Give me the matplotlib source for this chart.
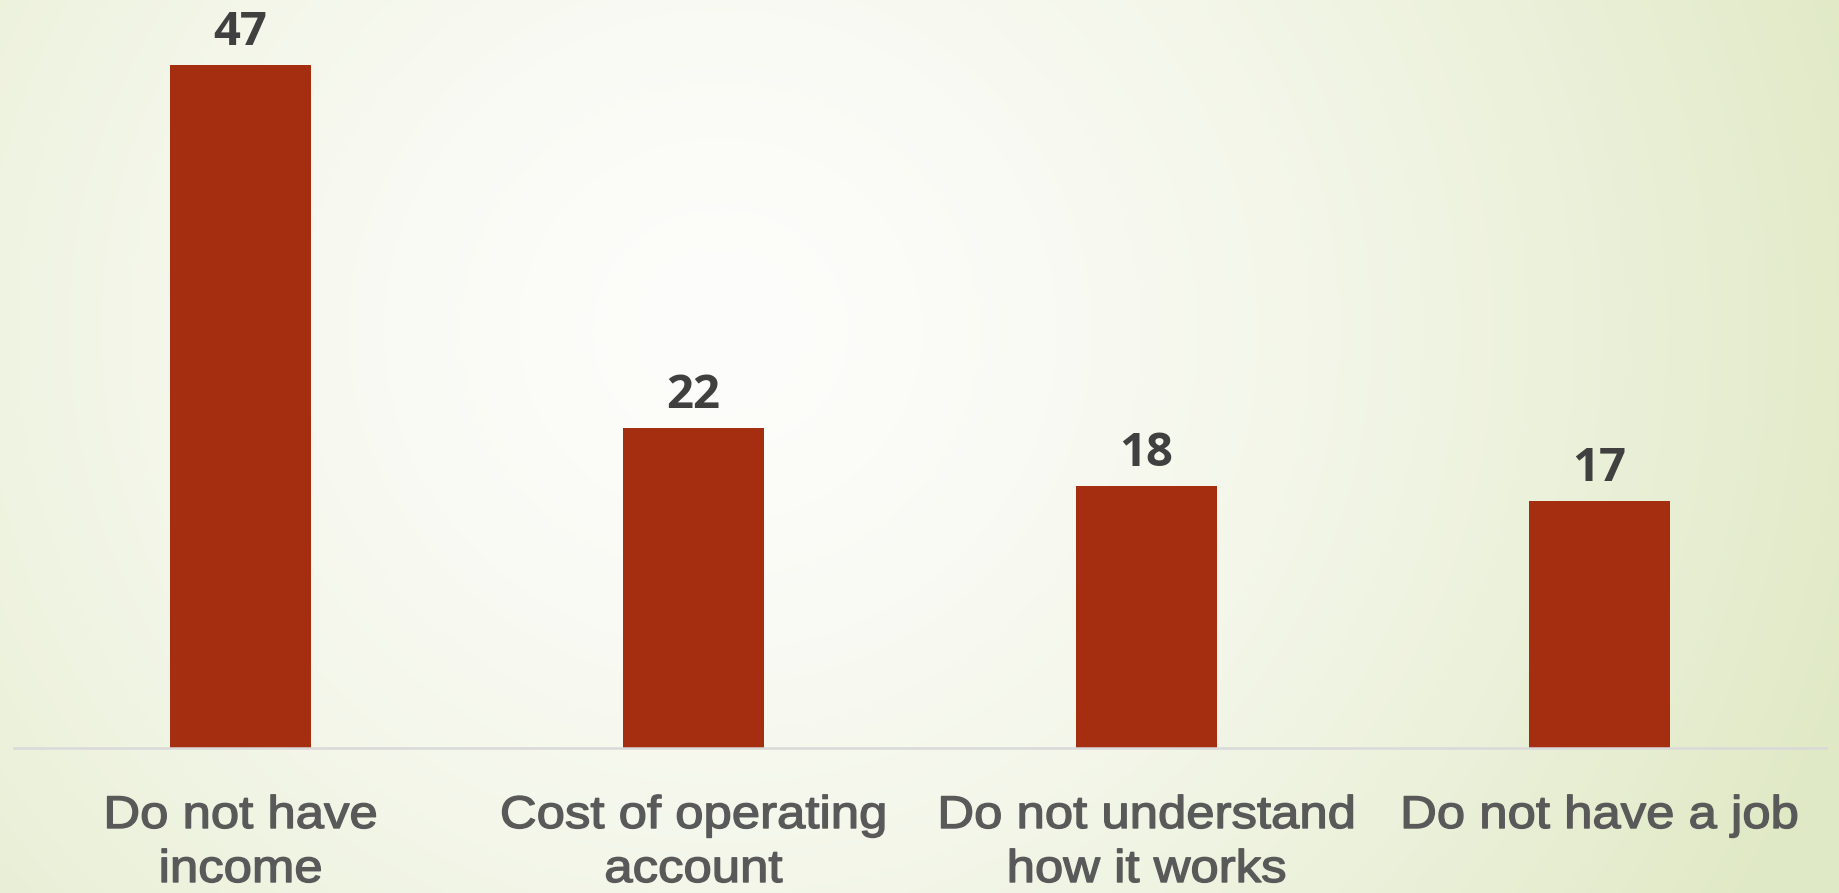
import numpy as np
import matplotlib
matplotlib.use("Agg")
import matplotlib.pyplot as plt
from matplotlib import font_manager
from matplotlib.patheffects import AbstractPathEffect
from matplotlib.transforms import Affine2D, offset_copy, blended_transform_factory

# Reasons given for not having an account
categories = ["Do not have\nincome", "Cost of operating\naccount",
              "Do not understand\nhow it works", "Do not have a job"]
values = [47, 22, 18, 17]
value_labels = ["47", "22", "18", "17"]

BAR_COLOR = "#a52e10"
VALUE_COLOR = "#404040"
CAT_COLOR = "#595959"


def pick_family(candidates):
    for fam in candidates:
        try:
            font_manager.findfont(font_manager.FontProperties(family=fam),
                                  fallback_to_default=False)
            return fam
        except Exception:
            continue
    return "DejaVu Sans"


class WideHeavy(AbstractPathEffect):
    """Widen glyphs horizontally about their centre and thicken them slightly."""

    def __init__(self, sx=1.1, linewidth=1.0, color="k"):
        super().__init__()
        self.sx = sx
        self.lw = linewidth
        self.color = color

    def draw_path(self, renderer, gc, tpath, affine, rgbFace=None):
        pts = affine.transform(tpath.vertices)
        cx = 0.5 * (pts[:, 0].min() + pts[:, 0].max())
        wide = affine + Affine2D().translate(-cx, 0).scale(self.sx, 1).translate(cx, 0)
        gc0 = renderer.new_gc()
        gc0.copy_properties(gc)
        gc0.set_linewidth(self.lw)
        gc0.set_foreground(self.color)
        renderer.draw_path(gc0, tpath, wide, rgbFace)
        gc0.restore()


cat_family = pick_family(["Liberation Sans", "DejaVu Sans"])
val_family = pick_family(["Open Sans", "Noto Sans", "DejaVu Sans"])

W, H, DPI = 1839, 893, 100
fig = plt.figure(figsize=(W / DPI, H / DPI), dpi=DPI)

# Soft radial background: near-white centre fading to pale green
bg = fig.add_axes([0, 0, 1, 1], zorder=0)
yy, xx = np.mgrid[0:H, 0:W]
cx, cy = 720.0, 330.0
d = np.hypot(xx - cx, (yy - cy) * 1.05)
t = np.clip(d / 1200.0, 0, 1) ** 1.5
inner = np.array([253, 253, 251]) / 255.0
outer = np.array([224, 233, 197]) / 255.0
img = inner[None, None, :] * (1 - t[..., None]) + outer[None, None, :] * t[..., None]
bg.imshow(img, aspect="auto", extent=(0, W, H, 0), interpolation="bilinear")
bg.set_axis_off()

ax = fig.add_axes([14 / W, 145 / H, 1812 / W, 726.5 / H], zorder=1)
ax.patch.set_alpha(0)

x = np.arange(len(categories))
ax.bar(x, values, width=0.313, color=BAR_COLOR, zorder=2)
ax.set_xlim(-0.5, len(categories) - 0.5)
ax.set_ylim(0, 50)

for spine in ["top", "right", "left"]:
    ax.spines[spine].set_visible(False)
ax.spines["bottom"].set_color("#d9d9d9")
ax.spines["bottom"].set_linewidth(1.8)
ax.set_yticks([])
ax.set_xticks([])

# Value labels above bars
for xi, v, lab in zip(x, values, value_labels):
    ax.annotate(lab, (xi, v), xytext=(0, 14.5), textcoords="offset points",
                ha="center", va="baseline", fontsize=34, fontweight="bold",
                color=VALUE_COLOR, family=val_family)

# Category labels below the axis, one line at a time
anchor = blended_transform_factory(ax.transData, ax.transAxes)
effect = [WideHeavy(sx=1.11, linewidth=1.0, color=CAT_COLOR)]
first_baseline_px = 80
line_gap_px = 54
for xi, cat in zip(x, categories):
    for i, line in enumerate(cat.split("\n")):
        off = -(first_baseline_px + i * line_gap_px) * 72 / DPI
        tr = offset_copy(anchor, fig=fig, x=0, y=off, units="points")
        ax.text(xi, 0, line, transform=tr, ha="center", va="baseline",
                fontsize=33, color=CAT_COLOR, family=cat_family,
                path_effects=effect, clip_on=False)

fig.savefig("out.png", dpi=DPI)
